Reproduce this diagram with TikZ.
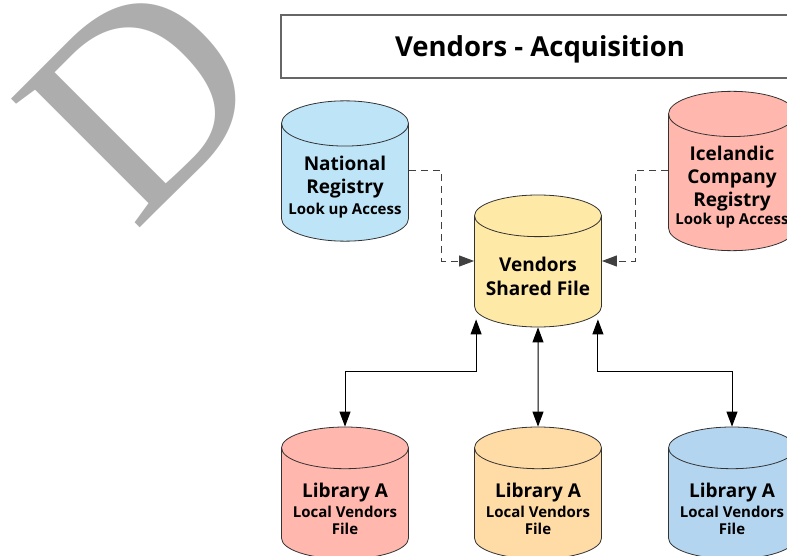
\documentclass[tikz,border=0pt]{standalone}
\usepackage{fontspec}
\setmainfont{Open Sans}
\newfontfamily\bigdfont{Liberation Serif}
\usetikzlibrary{shapes.geometric,arrows.meta,calc}

\definecolor{dgray}{HTML}{ADADAD}
\definecolor{nrblue}{HTML}{BEE4F7}
\definecolor{vsfyellow}{HTML}{FFE9A6}
\definecolor{icred}{HTML}{FFB7AE}
\definecolor{laorange}{HTML}{FFDBA6}
\definecolor{lablue}{HTML}{B3D5F0}

\newcommand{\bigln}{\fontsize{19}{23.5}\selectfont\bfseries}
\newcommand{\smallln}{\fontsize{15}{18}\selectfont\bfseries}
\newcommand{\lift}{\rule{0pt}{24pt}}

\tikzset{
  db/.style={cylinder, shape border rotate=90, aspect=0.4, draw=black!80,
    line width=0.8pt, minimum width=127pt, minimum height=132pt,
    anchor=shape center, align=center, inner sep=0pt, font=\bigln},
  titlebox/.style={draw=black!60, line width=1.5pt, minimum width=518pt,
    minimum height=63pt, text depth=0pt,
    font=\fontsize{27.5}{30}\selectfont\bfseries},
  lookup/.style={draw=black!75, line width=1pt, dash pattern=on 7pt off 5pt,
    -{Triangle[length=15pt,width=11pt]}},
  share/.style={draw=black, line width=1pt,
    {Triangle[length=15pt,width=11pt]}-{Triangle[length=15pt,width=11pt]}}
}

\begin{document}
\begin{tikzpicture}[x=1pt,y=-1pt]
\useasboundingbox (0,0) rectangle (787,556);
\clip (0,0) rectangle (787,556);

\node[text=dgray, rotate=45, inner sep=0pt,
  font=\bigdfont\fontsize{278}{278}\selectfont] (d) at (141,98) {D};

\node[titlebox] (t) at (540,46.5) {Vendors - Acquisition};

\node[db, fill=nrblue] (nr) at (345,171)
  {\lift National\\Registry\\[-2.5pt]\smallln Look up Access};
\node[db, fill=icred] (ic) at (732,171)
  {\lift Icelandic\\[-0.5pt]Company\\[-1pt]Registry\\[-5.5pt]\smallln Look up Access};
\node[db, fill=vsfyellow] (vsf) at (538,261)
  {\lift Vendors\\Shared File};

\node[db, fill=icred] (la) at (345,493)
  {\lift Library A\\[-3.5pt]\smallln Local Vendors\\[-6.5pt]\smallln File};
\node[db, fill=laorange] (lb) at (538,493)
  {\lift Library A\\[-3.5pt]\smallln Local Vendors\\[-6.5pt]\smallln File};
\node[db, fill=lablue] (lc) at (732,493)
  {\lift Library A\\[-3.5pt]\smallln Local Vendors\\[-6.5pt]\smallln File};

\path[lookup] (nr.shape center -| nr.east) -- ++(33,0) |- (vsf.shape center -| vsf.west);
\path[lookup] (ic.shape center -| ic.west) -- ++(-33,0) |- (vsf.shape center -| vsf.east);

\path[share] (la.north) -- ++(0,-55) -| ($(vsf.west |- vsf.south)+(2,-8)$);
\path[share] (lb.north) -- (vsf.south);
\path[share] (lc.north) -- ++(0,-55) -| ($(vsf.east |- vsf.south)+(-4,-8)$);
\end{tikzpicture}
\end{document}
